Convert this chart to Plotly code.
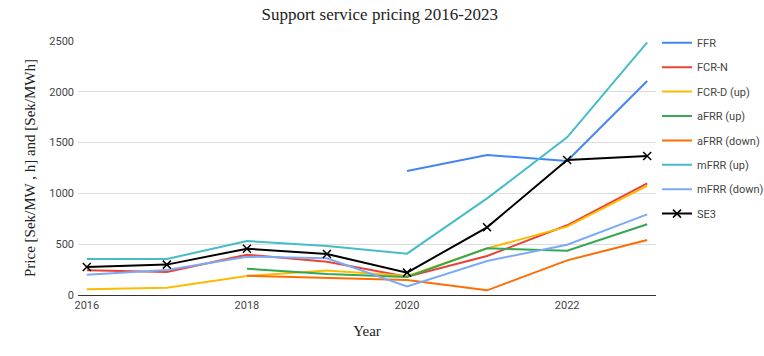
import plotly.graph_objects as go

years = [2016, 2017, 2018, 2019, 2020, 2021, 2022, 2023]
ffr = [None, None, None, None, 1220, 1378, 1319, 2106]
fcr_n = [243, 226, 397, 328, 181, 384, 686, 1099]
fcr_d_up = [56, 72, 187, 240, 186, 459, 673, 1073]
afrr_up = [None, None, 259, 207, 177, 459, 436, 696]
afrr_down = [None, None, 190, 167, 148, 46, 341, 541]
mfrr_up = [354, 354, 531, 482, 407, 951, 1552, 2487]
mfrr_down = [200, 246, 377, 361, 85, 335, 495, 794]
se3 = [276, 299, 456, 404, 220, 666, 1329, 1368]

series = [
    ("FFR", ffr, "#4285F4"),
    ("FCR-N", fcr_n, "#EA4335"),
    ("FCR-D (up)", fcr_d_up, "#FBBC04"),
    ("aFRR (up)", afrr_up, "#34A853"),
    ("aFRR (down)", afrr_down, "#FF6D01"),
    ("mFRR (up)", mfrr_up, "#46BDC6"),
    ("mFRR (down)", mfrr_down, "#7BAAF7"),
]

fig = go.Figure()
for i, (name, vals, col) in enumerate(series):
    fig.add_trace(go.Scatter(x=years, y=vals, name=name, mode="lines",
                             line=dict(color=col, width=2), legendgroup=str(i)))
fig.add_trace(go.Scatter(x=years, y=se3, name="SE3", mode="lines+markers",
                         line=dict(color="black", width=2),
                         marker=dict(symbol="x-thin", size=8, line=dict(color="black", width=1.5)),
                         legendgroup="se3"))

fig.update_layout(
    width=764, height=356,
    margin=dict(l=78, r=108, t=41, b=61, autoexpand=False),
    paper_bgcolor="white", plot_bgcolor="white",
    title=dict(text="Support service pricing 2016-2023", x=0.497, xanchor="center", y=0.96, yanchor="middle",
               font=dict(family="Liberation Serif", size=17, color="#222")),
    font=dict(family="Roboto", size=11, color="#444"),
    xaxis=dict(range=[2015.89, 2023.11], tickvals=[2016, 2018, 2020, 2022], showgrid=False,
               showline=True, linecolor="#333", linewidth=1, zeroline=False, ticks="",
               title=dict(text="Year", font=dict(family="Liberation Serif", size=15, color="#222"), standoff=14),
               tickfont=dict(family="Roboto", size=11, color="#444")),
    yaxis=dict(range=[0, 2500], tickvals=[0, 500, 1000, 1500, 2000, 2500], showgrid=True,
               gridcolor="#dcdcdc", zeroline=False, ticks="", ticklabelstandoff=3,
               title=dict(text="Price [Sek/MW , h] and [Sek/MWh]", font=dict(family="Liberation Serif", size=15, color="#222"), standoff=10),
               tickfont=dict(family="Roboto", size=11, color="#444")),
    legend=dict(x=1.0017, y=1.05, xanchor="left", yanchor="top", itemwidth=30,
                tracegroupgap=5.4, font=dict(family="Roboto", size=11, color="#444"),
                bgcolor="rgba(0,0,0,0)", maxheight=320),
    showlegend=True,
)
fig.write_html("out.html")
